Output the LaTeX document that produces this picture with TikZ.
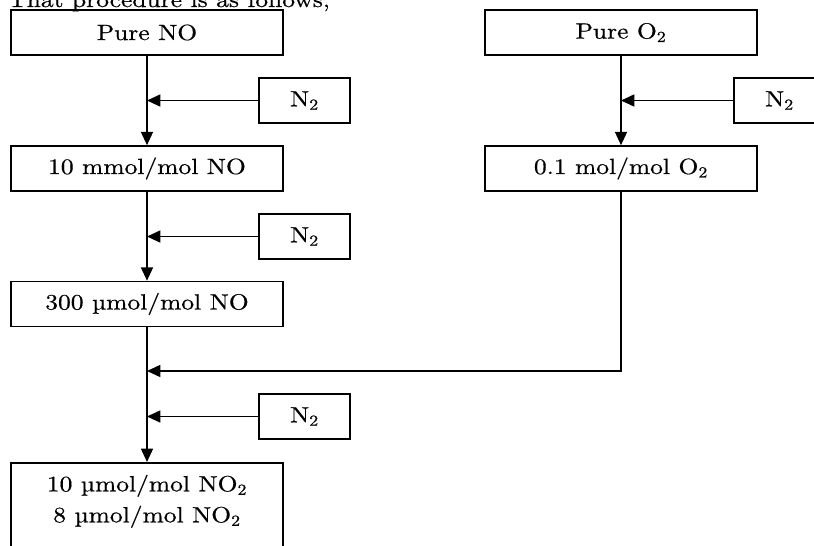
\documentclass[tikz,border=0pt]{standalone}
\usepackage{fontspec}
\setmainfont{lmroman10-regular}[Extension=.otf, FakeStretch=1.16, FakeBold=0.6]
\usetikzlibrary{arrows.meta}
\tikzset{
    flownode/.style={draw=black, line width=1.2pt, font=\fontsize{16.5}{21}\selectfont, inner sep=0pt},
    node_conc/.style={flownode, minimum width=204pt, minimum height=33.75pt},
    node_gas/.style={flownode, minimum width=68.25pt, minimum height=33.75pt},
    feed/.style={draw=black, line width=1.2pt, -{Triangle[length=10pt, width=9pt]}}
}

\begin{document}
\begin{tikzpicture}[x=0.75pt, y=-0.75pt]
    \clip (0,0) rectangle (814,546);
    \node[anchor=base west, inner sep=0pt, font=\fontsize{16.5}{21}\selectfont](intro) at (8,7) {That procedure is as follows;};

    \node[node_conc](pno) at (147,32.5) {Pure NO};
    \node[node_conc](po2) at (621,32.5) {Pure O\textsubscript{2}};
    \node[node_gas](n2a) at (304.5,100.5) {N\textsubscript{2}};
    \node[node_gas](n2o) at (779.5,100.5) {N\textsubscript{2}};
    \node[node_conc](no10) at (147,168.5) {10 mmol/mol NO};
    \node[node_conc](o2dil) at (621,168.5) {0.1 mol/mol O\textsubscript{2}};
    \node[node_gas](n2b) at (304.5,236.5) {N\textsubscript{2}};
    \node[node_conc](no300) at (147,304) {300 µmol/mol NO};
    \coordinate (mix) at (147,371);
    \node[node_gas](n2c) at (304.5,416.5) {N\textsubscript{2}};
    \node[node_conc, anchor=north, inner ysep=9pt](no2) at (147,462)
        {\parbox[t][75pt][t]{200pt}{\fontsize{16.5}{23.25}\selectfont\centering
        10 µmol/mol NO\textsubscript{2}\\ 8 µmol/mol NO\textsubscript{2}}};

    \draw[feed] (pno) -- (no10);
    \draw[feed] (n2a) -- (n2a -| pno);
    \draw[feed] (po2) -- (o2dil);
    \draw[feed] (n2o) -- (n2o -| po2);
    \draw[feed] (no10) -- (no300);
    \draw[feed] (n2b) -- (n2b -| no10);
    \draw[feed] (no300) -- (no2);
    \draw[feed] (o2dil) |- (mix);
    \draw[feed] (n2c) -- (n2c -| no300);
\end{tikzpicture}
\end{document}
